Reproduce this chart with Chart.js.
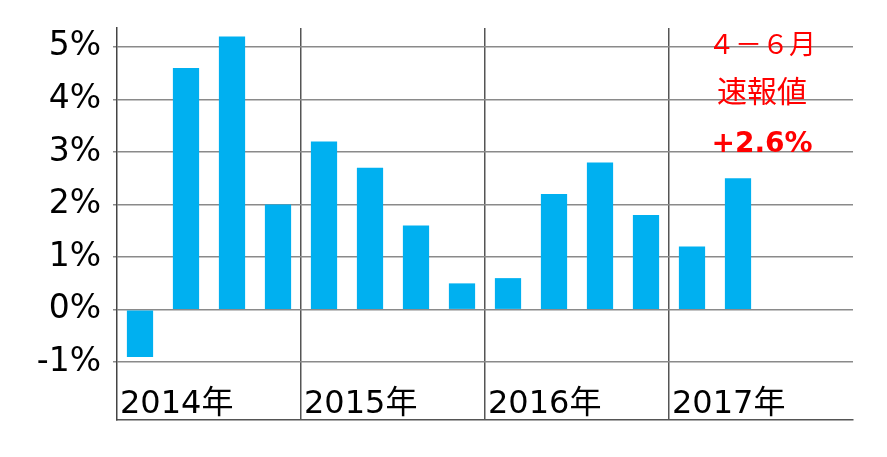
<!DOCTYPE html>
<html>
<head>
<meta charset="utf-8">
<script src="https://cdn.jsdelivr.net/npm/chart.js@4"></script>
<style>
  html, body { margin: 0; padding: 0; background: #fff; }
  #wrap { width: 887px; height: 457px; }
</style>
</head>
<body>
<div id="wrap"><canvas id="gdpChart"></canvas></div>
<script>
/* ================================
   Data
================================ */
const quarters = [
  "2014-1", "2014-2", "2014-3", "2014-4",
  "2015-1", "2015-2", "2015-3", "2015-4",
  "2016-1", "2016-2", "2016-3", "2016-4",
  "2017-1", "2017-2", "2017-3", "2017-4"
];
const growth = [
  -0.9, 4.6, 5.2, 2.0,
  3.2, 2.7, 1.6, 0.5,
  0.6, 2.2, 2.8, 1.8,
  1.2, 2.5, null, null
];
const yearLabels = ["2014年", "2015年", "2016年", "2017年"];
const yearStartIdx = [0, 4, 8, 12];
const yTicks = [-1, 0, 1, 2, 3, 4, 5];
const noteLines = ["４－６月", "速報値", "+2.6%"];

const FONT = "'DejaVu Sans', 'Noto Sans CJK JP', sans-serif";
const CJK = "'Noto Sans CJK JP', sans-serif";

/* ================================
   Plugins
================================ */
// year labels sit inside the plot, just above the bottom axis
const yearLabelPlugin = {
  id: "yearLabels",
  afterDatasetsDraw(chart) {
    const { ctx, scales: { x } } = chart;
    const half = (x.getPixelForValue(1) - x.getPixelForValue(0)) / 2;
    ctx.save();
    ctx.fillStyle = "#000";
    ctx.font = `32px ${FONT}`;
    ctx.textAlign = "left";
    ctx.textBaseline = "alphabetic";
    yearStartIdx.forEach((idx, i) => {
      ctx.fillText(yearLabels[i], x.getPixelForValue(idx) - half + 3, 413);
    });
    ctx.restore();
  }
};

// red note at top right
const notePlugin = {
  id: "note",
  afterDraw(chart) {
    const { ctx } = chart;
    const cx = 762;
    ctx.save();
    ctx.fillStyle = "#FF0000";
    ctx.textAlign = "center";
    ctx.textBaseline = "middle";
    ctx.font = `27px ${CJK}`;
    ctx.fillText(noteLines[0], cx, 44);
    ctx.font = `30px ${CJK}`;
    ctx.fillText(noteLines[1], cx, 91);
    ctx.textBaseline = "alphabetic";
    ctx.font = `bold 28px ${FONT}`;
    ctx.fillText(noteLines[2], cx, 152);
    ctx.restore();
  }
};

/* ================================
   Chart
================================ */
new Chart(document.getElementById("gdpChart"), {
  type: "bar",
  data: {
    labels: quarters,
    datasets: [{
      data: growth,
      backgroundColor: "#00B0F0",
      barPercentage: 0.57,
      categoryPercentage: 1.0
    }]
  },
  options: {
    responsive: true,
    maintainAspectRatio: false,
    animation: false,
    layout: { padding: { top: 28, right: 34, bottom: 37, left: 0 } },
    plugins: {
      legend: { display: false },
      tooltip: { enabled: false }
    },
    scales: {
      x: {
        ticks: { display: false },
        grid: {
          offset: true,
          drawTicks: false,
          lineWidth: 1.5,
          color: ctx => [4, 8, 12].includes(ctx.index) ? "#555" : "rgba(0,0,0,0)"
        },
        border: { display: true, color: "#555", width: 1.5 },
        afterFit: scale => { scale.height = 0; }
      },
      y: {
        min: -2.1,
        max: 5.36,
        afterBuildTicks: scale => {
          scale.ticks = yTicks.map(v => ({ value: v }));
        },
        afterFit: scale => {
          scale.width = 117;
          scale.paddingTop = 0;
          scale.paddingBottom = 0;
        },
        ticks: {
          color: "#000",
          padding: 12,
          font: { family: FONT, size: 33 },
          callback: v => v + "%"
        },
        grid: {
          color: "#8a8a8a",
          lineWidth: 1.5,
          tickLength: 4
        },
        border: { display: true, color: "#444", width: 1.5 }
      }
    }
  },
  plugins: [yearLabelPlugin, notePlugin]
});
</script>
</body>
</html>
